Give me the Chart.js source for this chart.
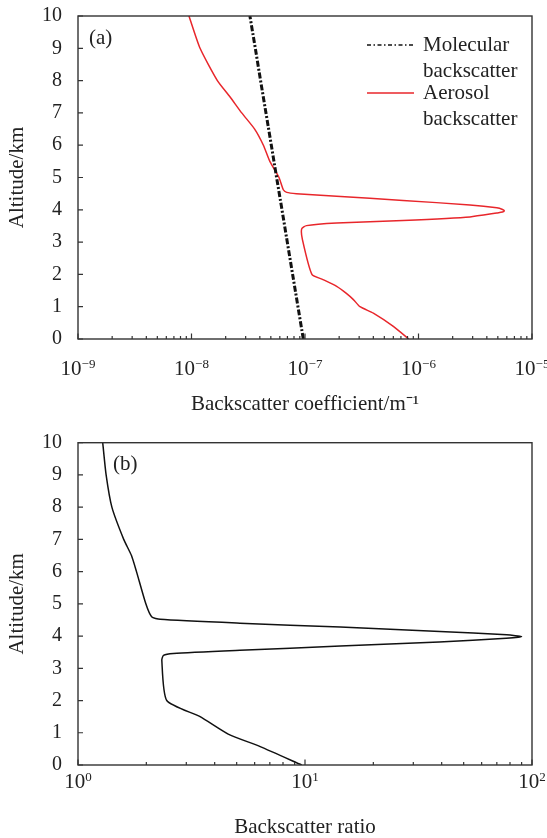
<!DOCTYPE html>
<html><head><meta charset="utf-8">
<script src="https://cdn.jsdelivr.net/npm/chart.js@4"></script>
<style>
html,body{margin:0;padding:0;background:#fff;}
canvas{display:block;}
</style></head><body>
<canvas id="c1" width="547" height="420"></canvas>
<canvas id="c2" width="547" height="418"></canvas>
<script>
// ---- data ----
const altAerosol = [10, 9, 8, 7.5, 7, 6.5, 6, 5.5, 5, 4.62, 4.54, 4.5, 4.42, 4.29, 4.15, 4.06, 4.01, 3.97, 3.93, 3.9, 3.78, 3.67, 3.59, 3.51, 3.41, 3.07, 2.0, 1.84, 1.63, 1.42, 1.22, 1.0, 0.8, 0.39, 0];
const aerosolBackscatter = [9.5e-9, 1.19e-8, 1.69e-8, 2.18e-8, 2.77e-8, 3.6e-8, 4.3e-8, 4.9e-8, 5.9e-8, 6.44e-8, 6.9e-8, 8.4e-8, 1.9e-7, 7.3e-7, 2.84e-6, 4.9e-6, 5.5e-6, 5.7e-6, 5.5e-6, 4.9e-6, 2.84e-6, 7.3e-7, 1.9e-7, 1.03e-7, 9.35e-8, 9.5e-8, 1.15e-7, 1.44e-7, 1.9e-7, 2.3e-7, 2.67e-7, 3.05e-7, 4.0e-7, 6.0e-7, 8.2e-7];
const altMolecular = [0, 1, 2, 3, 4, 5, 6, 7, 8, 9, 10];
const molecularBackscatter = [9.66e-8, 8.67e-8, 7.78e-8, 6.98e-8, 6.27e-8, 5.62e-8, 5.05e-8, 4.53e-8, 4.06e-8, 3.65e-8, 3.27e-8];
const altRatio = [10, 9, 8, 7, 6.5, 6, 5, 4.6, 4.52, 4.4, 4.28, 4.14, 4.04, 3.98, 3.93, 3.82, 3.69, 3.56, 3.46, 3.40, 3.25, 2.0, 1.5, 0.96, 0.57, 0];
const backscatterRatio = [1.285, 1.33, 1.41, 1.59, 1.72, 1.81, 1.99, 2.11, 2.30, 5.17, 14.3, 39.3, 77.4, 90, 77, 39, 14.3, 5.17, 2.63, 2.38, 2.34, 2.46, 3.45, 4.59, 6.35, 9.67];
const altitudeTicks = [0, 1, 2, 3, 4, 5, 6, 7, 8, 9, 10];
const decadesA = [-9, -8, -7, -6, -5];
const decadesB = [0, 1, 2];
const legendLabels = [["Molecular", "backscatter"], ["Aerosol", "backscatter"]];
const seriesNames = ["Molecular backscatter", "Aerosol backscatter", "Backscatter ratio"];

const SERIF = "'Liberation Serif', 'Times New Roman', serif";

function logTicks(decades) {
  const out = [];
  for (let i = 0; i < decades.length; i++) {
    const base = Math.pow(10, decades[i]);
    out.push({value: base, major: true, exp: decades[i]});
    if (i < decades.length - 1) for (let k = 2; k <= 9; k++) out.push({value: k * base, major: false});
  }
  return out;
}
const pts = (xs, ys) => xs.map((x, i) => ({x: x, y: ys[i]}));

const framePlugin = {
  id: 'frame',
  afterDraw(chart, args, opts) {
    const {ctx, chartArea: a, scales: {x, y}} = chart;
    ctx.save();
    ctx.strokeStyle = '#333';
    ctx.lineWidth = 1.4;
    ctx.strokeRect(a.left, a.top, a.right - a.left, a.bottom - a.top);
    ctx.lineWidth = 1.2;
    ctx.beginPath();
    x.ticks.forEach((t, i) => {
      const px = x.getPixelForTick(i);
      const len = t.major ? 5.5 : 3;
      ctx.moveTo(px, a.bottom); ctx.lineTo(px, a.bottom - len);
    });
    y.ticks.forEach((t, i) => {
      const py = y.getPixelForTick(i);
      ctx.moveTo(a.left, py); ctx.lineTo(a.left + 5, py);
    });
    ctx.stroke();
    // x tick labels: 10 with raised exponent
    ctx.fillStyle = '#222';
    ctx.textBaseline = 'alphabetic';
    ctx.textAlign = 'left';
    const base = a.bottom + opts.labelBase;
    opts.decades.forEach(e => {
      const px = x.getPixelForValue(Math.pow(10, e));
      const ex = String(e).replace('-', '\u2212');
      ctx.font = '21px ' + SERIF;
      const w1 = ctx.measureText('10').width;
      ctx.font = '13px ' + SERIF;
      const w2 = ctx.measureText(ex).width;
      const sx = px - (w1 + w2) / 2;
      ctx.font = '21px ' + SERIF;
      ctx.fillText('10', sx, base);
      ctx.font = '13px ' + SERIF;
      ctx.fillText(ex, sx + w1, base - 7.5);
    });
    // panel label
    ctx.font = '21px ' + SERIF;
    ctx.textBaseline = 'middle';
    ctx.fillText(opts.panel, a.left + opts.panelDx, a.top + 22);
    // legend
    if (opts.legend) {
      const sx0 = a.right - 165, sx1 = a.right - 118, tx = a.right - 109;
      const rows = [[29, 55], [77, 103]];
      chart.data.datasets.forEach((ds, i) => {
        ctx.save();
        ctx.strokeStyle = ds.borderColor;
        ctx.lineWidth = i === 0 ? 1.6 : ds.borderWidth;
        ctx.setLineDash(i === 0 ? [4, 2.5, 1.5, 2.5] : []);
        ctx.beginPath();
        ctx.moveTo(sx0, a.top + rows[i][0]); ctx.lineTo(sx1, a.top + rows[i][0]);
        ctx.stroke();
        ctx.restore();
        ctx.fillText(legendLabels[i][0], tx, a.top + rows[i][0]);
        ctx.fillText(legendLabels[i][1], tx, a.top + rows[i][1]);
      });
    }
    ctx.restore();
  }
};

function makeChart(id, cfg) {
  const yScale = {
    type: 'linear', min: 0, max: 10,
    grid: {display: false, drawTicks: false},
    border: {display: false},
    afterBuildTicks: s => { s.ticks = altitudeTicks.map(v => ({value: v})); },
    afterFit: s => { s.width = 78; s.paddingTop = 0; s.paddingBottom = 0; },
    ticks: {autoSkip: false, padding: 16, color: '#222', font: {family: SERIF, size: 20}},
    title: {display: true, text: 'Altitude/km', color: '#222', padding: {top: 5, bottom: 0}, font: {family: SERIF, size: 21, lineHeight: 1.2}}
  };
  const xt = logTicks(cfg.decades);
  const xScale = {
    type: 'logarithmic',
    min: Math.pow(10, cfg.decades[0]), max: Math.pow(10, cfg.decades[cfg.decades.length - 1]),
    grid: {display: false, drawTicks: false},
    border: {display: false},
    afterBuildTicks: s => { s.ticks = xt.map(t => ({value: t.value, major: t.major})); },
    afterFit: s => { s.height = cfg.xHeight; s.paddingLeft = 0; s.paddingRight = 0; },
    ticks: {display: false, autoSkip: false, maxRotation: 0, minRotation: 0},
    title: {display: true, text: cfg.xTitle, color: '#222', padding: {top: 0, bottom: cfg.xTitlePad}, font: {family: SERIF, size: 21, lineHeight: 1.2}}
  };
  return new Chart(document.getElementById(id), {
    type: 'scatter',
    data: {datasets: cfg.datasets},
    options: {
      responsive: false, animation: false, devicePixelRatio: 1,
      layout: {padding: {left: 0, right: 15, top: cfg.top, bottom: 0}},
      plugins: {legend: {display: false}, tooltip: {enabled: false}, frame: cfg.frame},
      elements: {point: {radius: 0}},
      scales: {x: xScale, y: yScale}
    },
    plugins: [framePlugin]
  });
}

makeChart('c1', {
  decades: decadesA, top: 16, xHeight: 81, xTitlePad: 3,
  xTitle: 'Backscatter coefficient/m\u207B\u00B9',
  frame: {panel: '(a)', panelDx: 11, legend: true, decades: decadesA, labelBase: 36.4},
  datasets: [
    {label: seriesNames[0], data: pts(molecularBackscatter, altMolecular), showLine: true, borderColor: '#111', borderWidth: 3, borderDash: [6, 2, 2, 2], tension: 0},
    {label: seriesNames[1], data: pts(aerosolBackscatter, altAerosol), showLine: true, borderColor: '#e8262b', borderWidth: 1.5, tension: 0.2}
  ]
});
makeChart('c2', {
  decades: decadesB, top: 22.7, xHeight: 73, xTitlePad: -2,
  xTitle: 'Backscatter ratio',
  frame: {panel: '(b)', panelDx: 35, legend: false, decades: decadesB, labelBase: 23},
  datasets: [
    {label: seriesNames[2], data: pts(backscatterRatio, altRatio), showLine: true, borderColor: '#111', borderWidth: 1.5, tension: 0.2}
  ]
});
</script>
</body></html>
